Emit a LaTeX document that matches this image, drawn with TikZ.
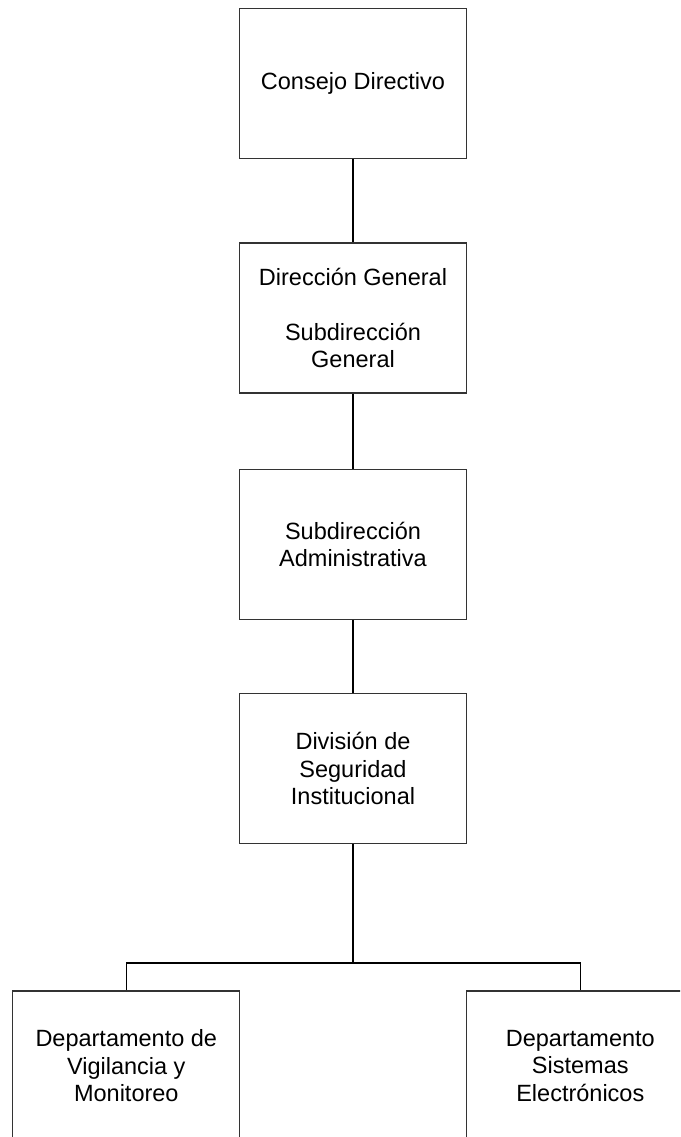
\documentclass[tikz,border=0pt]{standalone}
\usepackage{fontspec}
\setmainfont{Liberation Sans}
\begin{document}
\begin{tikzpicture}[x=1pt,y=-1pt,
  orgbox/.style={draw=black!80, line width=1.3pt, rectangle, minimum width=227pt, minimum height=150pt,
    inner sep=0pt, align=center, font=\fontsize{23.5pt}{27.5pt}\selectfont, text=black},
  conn/.style={draw=black, line width=1.4pt}]
\useasboundingbox (0,0) rectangle (680,1137);
\clip (0,0) rectangle (680,1137);
\node[orgbox] (b1) at (353,83.5) {Consejo Directivo};
\node[orgbox] (b2) at (353,318) {Dirección General\\[27.5pt]Subdirección\\General};
\node[orgbox] (b3) at (353,544.5) {Subdirección\\Administrativa};
\node[orgbox] (b4) at (353,768.5) {División de\\Seguridad\\Institucional};
\node[orgbox] (bl) at (126.3,1066) {Departamento de\\Vigilancia y\\Monitoreo};
\node[orgbox] (br) at (580.3,1066) {Departamento\\Sistemas\\Electrónicos};
\coordinate (j) at (353,963);
\draw[conn] (b1.south) -- (b2.north);
\draw[conn] (b2.south) -- (b3.north);
\draw[conn] (b3.south) -- (b4.north);
\draw[conn] (b4.south) -- (j);
\draw[conn] (bl.north) |- (j) -| (br.north);
\end{tikzpicture}
\end{document}
